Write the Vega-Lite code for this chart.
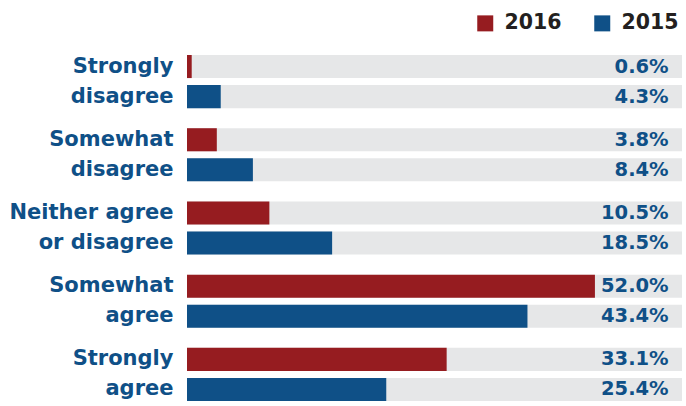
{
  "$schema": "https://vega.github.io/schema/vega-lite/v6.json",
  "width": 495,
  "height": 346,
  "autosize": {"type": "none"},
  "padding": {"left": 187, "top": 55, "right": 4, "bottom": 5},
  "background": "#ffffff",
  "config": {"view": {"stroke": null}, "font": "DejaVu Sans"},
  "data": {
    "values": [
      {"category": "Strongly|disagree", "year": "2016", "value": 0.6, "label": "0.6%"},
      {"category": "Strongly|disagree", "year": "2015", "value": 4.3, "label": "4.3%"},
      {"category": "Somewhat|disagree", "year": "2016", "value": 3.8, "label": "3.8%"},
      {"category": "Somewhat|disagree", "year": "2015", "value": 8.4, "label": "8.4%"},
      {"category": "Neither agree|or disagree", "year": "2016", "value": 10.5, "label": "10.5%"},
      {"category": "Neither agree|or disagree", "year": "2015", "value": 18.5, "label": "18.5%"},
      {"category": "Somewhat|agree", "year": "2016", "value": 52.0, "label": "52.0%"},
      {"category": "Somewhat|agree", "year": "2015", "value": 43.4, "label": "43.4%"},
      {"category": "Strongly|agree", "year": "2016", "value": 33.1, "label": "33.1%"},
      {"category": "Strongly|agree", "year": "2015", "value": 25.4, "label": "25.4%"}
    ]
  },
  "encoding": {
    "y": {
      "field": "category",
      "type": "nominal",
      "sort": null,
      "scale": {"paddingInner": 0.274, "paddingOuter": 0},
      "axis": {
        "title": null,
        "domain": false,
        "ticks": false,
        "labelExpr": "split(datum.value, '|')",
        "labelFont": "DejaVu Sans",
        "labelFontSize": 21,
        "labelFontWeight": "bold",
        "labelColor": "#0f5087",
        "labelLineHeight": 30,
        "labelPadding": 14,
        "labelOffset": -15,
        "labelAlign": "right",
        "labelBaseline": "middle",
        "labelLimit": 300
      }
    },
    "yOffset": {
      "field": "year",
      "type": "nominal",
      "sort": ["2016", "2015"],
      "scale": {"paddingInner": 0.233, "paddingOuter": 0}
    }
  },
  "layer": [
    {
      "mark": {"type": "bar", "color": "#e6e7e8", "cornerRadius": 0},
      "encoding": {
        "x": {"datum": 0, "type": "quantitative", "scale": {"domain": [0, 63.1], "nice": false, "zero": true}, "axis": null},
        "x2": {"datum": 63.1}
      }
    },
    {
      "mark": {"type": "bar"},
      "encoding": {
        "x": {"field": "value", "type": "quantitative", "axis": null},
        "color": {
          "field": "year",
          "type": "nominal",
          "scale": {"domain": ["2016", "2015"], "range": ["#961c20", "#0f5087"]},
          "legend": {
            "title": null,
            "orient": "none",
            "legendX": 288,
            "legendY": -42,
            "direction": "horizontal",
            "symbolType": "square",
            "symbolSize": 256,
            "symbolStrokeWidth": 0,
            "labelFont": "DejaVu Sans",
            "labelFontSize": 20.5,
            "labelFontWeight": "bold",
            "labelColor": "#231f20",
            "labelOffset": 9,
            "columnPadding": 30,
            "padding": 0
          }
        }
      }
    },
    {
      "mark": {"type": "text", "align": "right", "baseline": "middle", "font": "DejaVu Sans", "fontSize": 19.5, "fontWeight": "bold", "color": "#0f5087"},
      "encoding": {
        "x": {"datum": 61.4, "type": "quantitative"},
        "text": {"field": "label", "type": "nominal"}
      }
    }
  ]
}
